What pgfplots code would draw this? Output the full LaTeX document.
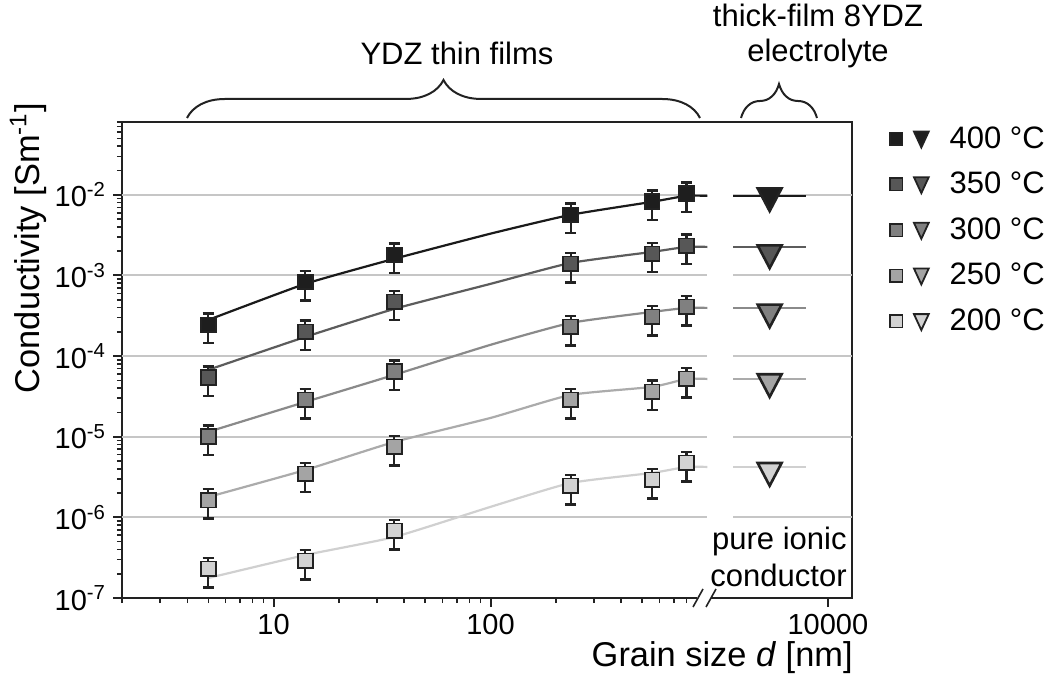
\documentclass[border=0pt]{standalone}
\usepackage{fontspec}
\setmainfont{Liberation Sans}
\usepackage{pgfplots}
\pgfplotsset{compat=1.18}
\usetikzlibrary{decorations.pathreplacing}

% fill colours of the symbols, one per temperature
\definecolor{c400}{HTML}{1E1E1E}
\definecolor{c350}{HTML}{575757}
\definecolor{c300}{HTML}{808080}
\definecolor{c250}{HTML}{A4A4A4}
\definecolor{c200}{HTML}{D2D2D2}
% colours of the fitted curves
\definecolor{l400}{HTML}{1A1A1A}
\definecolor{l350}{HTML}{5C5C5C}
\definecolor{l300}{HTML}{8A8A8A}
\definecolor{l250}{HTML}{ABABAB}
\definecolor{l200}{HTML}{D0D0D0}
\definecolor{gridc}{HTML}{C6C6C6}
\definecolor{edge}{HTML}{222222}

\pgfplotsset{
  sq/.style={only marks, mark=square*, mark size=3.7pt, forget plot,
    mark options={draw=edge, fill=#1, line width=0.9pt},
    error bars/y dir=both, error bars/y explicit,
    error bars/error bar style={draw=edge, line width=1.1pt},
    error bars/error mark options={rotate=90, draw=edge, line width=1.1pt, mark size=2.8pt}},
  fit/.style={draw=#1, line width=1.1pt, no markers, smooth, tension=0.3, forget plot},
  tri/.style={only marks, mark=triangle*, mark size=6.9pt,
    mark options={rotate=180, yscale=1.1, draw=edge, fill=#1, line width=1.3pt}},
  leg/.style={legend image code/.code={
     \draw[draw=edge, fill=#1, line width=0.7pt] (-3.1pt,-3.1pt) rectangle (3.1pt,3.1pt);
     \draw[draw=edge, fill=#1, line width=0.9pt, line join=miter]
        (8.8pt,3.6pt) -- (16.2pt,3.6pt) -- (12.5pt,-4.4pt) -- cycle;}},
  grd/.style={draw=gridc, line width=1pt, forget plot},
}

\begin{document}
\begin{tikzpicture}
\path[use as bounding box] (-61pt,-40.5pt) rectangle (463pt,299pt);

\begin{axis}[
  at={(0pt,0pt)}, anchor=south west, scale only axis,
  width=365pt, height=238pt,
  xmode=log, ymode=log,
  xmin=2, xmax=4641, ymin=1e-7, ymax=0.08,
  axis line style={draw=edge, line width=1pt},
  tick align=outside, xtick pos=left, ytick pos=left,
  major tick length=4.5pt, minor tick length=2.6pt,
  every tick/.style={draw=edge, line width=1pt},
  every minor tick/.style={draw=edge, line width=0.8pt},
  xtick={10,100,3594}, xticklabels={10,100,10000},
  minor xtick={2,...,9,20,30,...,90,200,300,...,800},
  ytick={1e-7,1e-6,1e-5,1e-4,1e-3,1e-2},
  yticklabels={10\textsuperscript{-7},10\textsuperscript{-6},10\textsuperscript{-5},
               10\textsuperscript{-4},10\textsuperscript{-3},10\textsuperscript{-2}},
  minor ytick={2e-7,3e-7,4e-7,5e-7,6e-7,7e-7,8e-7,9e-7,
               2e-6,3e-6,4e-6,5e-6,6e-6,7e-6,8e-6,9e-6,
               2e-5,3e-5,4e-5,5e-5,6e-5,7e-5,8e-5,9e-5,
               2e-4,3e-4,4e-4,5e-4,6e-4,7e-4,8e-4,9e-4,
               2e-3,3e-3,4e-3,5e-3,6e-3,7e-3,8e-3,9e-3,
               2e-2,3e-2,4e-2,5e-2,6e-2,7e-2,8e-2},
  tick label style={font=\fontsize{14.5}{17}\selectfont},
  xlabel={Grain size \textit{d} [nm]},
  xlabel style={at={(axis description cs:1.0014,-0.1429)}, anchor=base east,
                inner sep=0pt, font=\fontsize{17.2}{20}\selectfont},
  ylabel={Conductivity [Sm\textsuperscript{-1}]},
  ylabel style={at={(axis description cs:-0.1137,0.735)}, anchor=base,
                inner sep=0pt, font=\fontsize{17.2}{20}\selectfont},
  legend style={at={(axis description cs:1.0507,1.0000)}, anchor=north west,
                draw=none, fill=none, inner sep=0pt, row sep=6.5pt,
                font=\fontsize{15.5}{18}\selectfont,
                /tikz/every odd column/.append style={column sep=8pt}},
  legend cell align=left,
]

% grid lines, interrupted at the axis break
\addplot[grd] coordinates {(2,1e-2)(1000,1e-2)};
\addplot[grd] coordinates {(2,1e-3)(1000,1e-3)};
\addplot[grd] coordinates {(2,1e-4)(1000,1e-4)};
\addplot[grd] coordinates {(2,1e-5)(1000,1e-5)};
\addplot[grd] coordinates {(2,1e-6)(1000,1e-6)};
\addplot[grd] coordinates {(1318,1e-2)(4641,1e-2)};
\addplot[grd] coordinates {(1318,1e-3)(4641,1e-3)};
\addplot[grd] coordinates {(1318,1e-4)(4641,1e-4)};
\addplot[grd] coordinates {(1318,1e-5)(4641,1e-5)};
\addplot[grd] coordinates {(1318,1e-6)(4641,1e-6)};

% fitted curves of the thin films
\addplot[fit=l400] coordinates {(5,2.81e-4)(14,7.87e-4)(36,1.61e-3)(100,3.3e-3)(234,5.65e-3)(556,8.19e-3)(800,9.72e-3)(1000,9.72e-3)};
\addplot[fit=l350] coordinates {(5,6.75e-5)(14,1.73e-4)(36,3.85e-4)(100,7.87e-4)(234,1.43e-3)(556,1.96e-3)(800,2.26e-3)(1000,2.26e-3)};
\addplot[fit=l300] coordinates {(5,1.15e-5)(14,2.70e-5)(36,5.85e-5)(100,1.38e-4)(234,2.58e-4)(556,3.53e-4)(800,3.96e-4)(1000,3.96e-4)};
\addplot[fit=l250] coordinates {(5,1.79e-6)(14,3.87e-6)(36,8.61e-6)(100,1.71e-5)(234,3.30e-5)(556,4.15e-5)(800,5.21e-5)(1000,5.21e-5)};
\addplot[fit=l200] coordinates {(5,1.77e-7)(14,3.41e-7)(36,5.71e-7)(100,1.35e-6)(234,2.67e-6)(556,3.56e-6)(800,4.22e-6)(1000,4.22e-6)};

% levels of the thick-film electrolyte
\addplot[fit=l400] coordinates {(1318,9.72e-3)(2844,9.72e-3)};
\addplot[fit=l350] coordinates {(1318,2.26e-3)(2844,2.26e-3)};
\addplot[fit=l300] coordinates {(1318,3.96e-4)(2844,3.96e-4)};
\addplot[fit=l250] coordinates {(1318,5.21e-5)(2844,5.21e-5)};
\addplot[fit=l200] coordinates {(1318,4.22e-6)(2844,4.22e-6)};

% thin-film measurements with asymmetric error bars
\addplot[sq=c400] coordinates {
  (5,2.44e-4)   += (0,0.927e-4) -= (0,1.0e-4)
  (14,8.3e-4)   += (0,3.15e-4)  -= (0,3.40e-4)
  (36,1.8e-3)   += (0,6.84e-4)  -= (0,7.38e-4)
  (234,5.65e-3) += (0,2.147e-3) -= (0,2.317e-3)
  (556,8.2e-3)  += (0,3.116e-3) -= (0,3.362e-3)
  (800,1.03e-2) += (0,3.914e-3) -= (0,4.223e-3)};
\addplot[sq=c350] coordinates {
  (5,5.4e-5)    += (0,2.052e-5) -= (0,2.214e-5)
  (14,2.0e-4)   += (0,7.6e-5)   -= (0,8.2e-5)
  (36,4.7e-4)   += (0,1.786e-4) -= (0,1.927e-4)
  (234,1.39e-3) += (0,5.28e-4)  -= (0,5.70e-4)
  (556,1.85e-3) += (0,7.03e-4)  -= (0,7.585e-4)
  (800,2.33e-3) += (0,8.85e-4)  -= (0,9.55e-4)};
\addplot[sq=c300] coordinates {
  (5,1.0e-5)    += (0,3.8e-6)   -= (0,4.1e-6)
  (14,2.86e-5)  += (0,1.087e-5) -= (0,1.173e-5)
  (36,6.4e-5)   += (0,2.432e-5) -= (0,2.624e-5)
  (234,2.3e-4)  += (0,8.74e-5)  -= (0,9.43e-5)
  (556,3.06e-4) += (0,1.163e-4) -= (0,1.255e-4)
  (800,4.07e-4) += (0,1.547e-4) -= (0,1.669e-4)};
\addplot[sq=c250] coordinates {
  (5,1.64e-6)   += (0,6.23e-7)  -= (0,6.72e-7)
  (14,3.46e-6)  += (0,1.315e-6) -= (0,1.419e-6)
  (36,7.47e-6)  += (0,2.839e-6) -= (0,3.063e-6)
  (234,2.86e-5) += (0,1.087e-5) -= (0,1.173e-5)
  (556,3.6e-5)  += (0,1.368e-5) -= (0,1.476e-5)
  (800,5.2e-5)  += (0,1.976e-5) -= (0,2.132e-5)};
\addplot[sq=c200] coordinates {
  (5,2.29e-7)   += (0,8.7e-8)   -= (0,9.39e-8)
  (14,2.88e-7)  += (0,1.094e-7) -= (0,1.181e-7)
  (36,6.78e-7)  += (0,2.576e-7) -= (0,2.78e-7)
  (234,2.45e-6) += (0,9.31e-7)  -= (0,1.005e-6)
  (556,2.91e-6) += (0,1.106e-6) -= (0,1.193e-6)
  (800,4.73e-6) += (0,1.797e-6) -= (0,1.939e-6)};

% thick-film electrolyte
\addplot[tri=c400, leg=c400] coordinates {(1936,9.7e-3)};
\addlegendentry{400 °C}
\addplot[tri=c350, leg=c350] coordinates {(1936,1.9e-3)};
\addlegendentry{350 °C}
\addplot[tri=c300, leg=c300] coordinates {(1936,3.5e-4)};
\addlegendentry{300 °C}
\addplot[tri=c250, leg=c250] coordinates {(1936,4.8e-5)};
\addlegendentry{250 °C}
\addplot[tri=c200, leg=c200] coordinates {(1936,3.8e-6)};
\addlegendentry{200 °C}
\end{axis}

% annotations, in a frame with the origin at the top left corner
\begin{scope}[shift={(-61pt,299pt)}, x=0.5pt, y=-0.5pt]
  \draw[edge, line width=1pt, decorate, decoration={brace, amplitude=19pt}]
    (187,118) -- (700,118);
  \draw[edge, line width=1pt, decorate, decoration={brace, amplitude=17pt}]
    (741,118) -- (817,118);
  \begin{scope}[font=\fontsize{15.5}{18}\selectfont]
    \node[anchor=base, inner sep=0pt] at (457,65) {YDZ thin films};
    \node[anchor=base, inner sep=0pt] at (818,27) {thick-film 8YDZ};
    \node[anchor=base, inner sep=0pt] at (818,62) {electrolyte};
    \node[anchor=base east, inner sep=0pt] at (847,550) {pure ionic};
    \node[anchor=base east, inner sep=0pt] at (847,587) {conductor};
  \end{scope}
  % break of the grain-size axis
  \fill[white] (697,594) rectangle (711,602);
  \draw[edge, line width=0.8pt] (693,607) -- (703,589);
  \draw[edge, line width=0.8pt] (706,607) -- (716,589);
\end{scope}
\end{tikzpicture}
\end{document}
